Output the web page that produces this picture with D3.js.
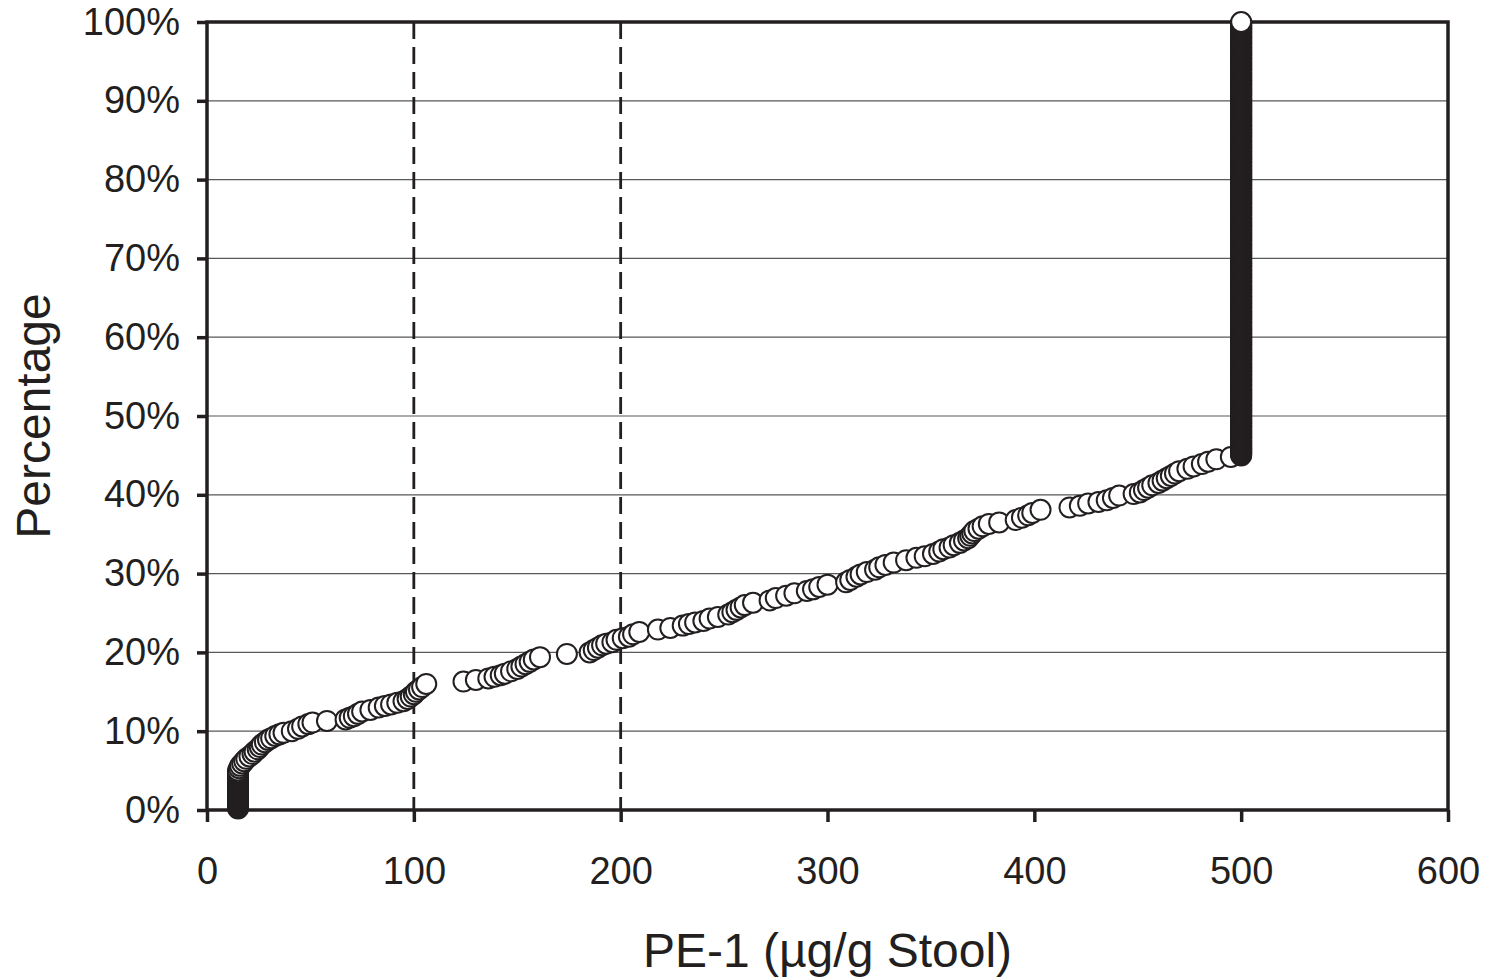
<!DOCTYPE html>
<html>
<head>
<meta charset="utf-8">
<script src="https://cdn.jsdelivr.net/npm/d3@7"></script>
<style>
  body { margin: 0; background: #fff; }
  svg { display: block; font-family: "Liberation Sans", Arial, sans-serif; }
</style>
</head>
<body>
<svg id="chart" width="1486" height="978"></svg>
<script>
// tick labels
var xTicks = [0, 100, 200, 300, 400, 500, 600];
var yTicks = [0, 10, 20, 30, 40, 50, 60, 70, 80, 90, 100];
var cutoffs = [100, 200];

// sloped part of the cumulative curve: PE-1 value and cumulative percentage
var pe1 = [15, 15.5, 16, 17, 18, 19, 20.5, 22, 23, 24.5, 25.5, 26.5, 28, 29.5, 31, 33, 35, 37, 41, 44,
  46, 49, 51, 58, 67, 69, 71, 73, 75, 79, 83, 86, 89, 92, 95, 97, 98.5, 100, 101, 102.5, 104, 106,
  124, 130, 136, 139, 142, 144, 147, 150, 152, 154, 156, 158, 161, 174, 185, 187, 189, 191, 193, 196,
  198, 201, 204, 206, 209, 218, 224, 230, 233, 236, 240, 243, 247, 252, 254, 256, 258, 260, 264, 272,
  275, 280, 284, 290, 293, 296, 300, 309, 311, 314, 316, 319, 323, 325, 328, 332, 338, 343, 347, 351,
  354, 356, 359, 361, 364, 366, 368, 369, 370, 371, 373, 375, 378, 383, 391, 394, 397, 399, 403, 417,
  422, 426, 431, 435, 438, 441, 448, 451, 453, 455, 457, 460, 462, 464, 466, 468, 470, 474, 477, 481,
  484, 488, 495];
var pct = [5.0, 5.3, 5.6, 5.9, 6.2, 6.5, 6.8, 7.1, 7.4, 7.7, 8.0, 8.3, 8.6, 8.9, 9.1, 9.4, 9.6, 9.8, 10.0, 10.3,
  10.6, 10.9, 11.1, 11.3, 11.5, 11.7, 11.9, 12.2, 12.5, 12.7, 13.0, 13.2, 13.4, 13.6, 13.8, 14.1, 14.4, 14.7, 15.0, 15.3, 15.6, 16.0,
  16.3, 16.5, 16.7, 16.9, 17.1, 17.3, 17.6, 17.9, 18.2, 18.5, 18.8, 19.1, 19.4, 19.8, 20.0, 20.3, 20.6, 20.9, 21.1, 21.3,
  21.6, 21.8, 22.0, 22.3, 22.6, 22.9, 23.1, 23.4, 23.6, 23.8, 24.0, 24.3, 24.5, 24.8, 25.1, 25.4, 25.7, 26.0, 26.3, 26.6,
  26.9, 27.2, 27.5, 27.8, 28.0, 28.3, 28.6, 28.9, 29.2, 29.6, 29.9, 30.2, 30.5, 30.8, 31.1, 31.4, 31.7, 32.0, 32.2, 32.5,
  32.8, 33.1, 33.3, 33.6, 33.9, 34.2, 34.5, 34.8, 35.1, 35.4, 35.7, 36.0, 36.3, 36.5, 36.8, 37.1, 37.4, 37.7, 38.1, 38.4,
  38.6, 38.9, 39.1, 39.3, 39.6, 39.9, 40.1, 40.3, 40.6, 40.9, 41.2, 41.5, 41.8, 42.1, 42.4, 42.7, 43.0, 43.3, 43.6, 43.9,
  44.2, 44.5, 44.8];

// tied samples (below detection limit / capped at 500): value, first and last percentage, sample count
var stackPe1 = [15, 500];
var stackFrom = [0.2, 45.0];
var stackTo = [4.8, 100];
var stackCount = [47, 551];

var svg = d3.select("#chart");
var plotLeft = 207, plotRight = 1448, plotTop = 22, plotBottom = 810;
var ink = "#231f20";

var x = d3.scaleLinear().domain([0, 600]).range([plotLeft, plotRight]);
var y = d3.scaleLinear().domain([0, 100]).range([plotBottom, plotTop]);

// gridlines
svg.append("g").selectAll("line")
  .data(yTicks.filter(function(d) { return d > 0 && d < 100; }))
  .enter().append("line")
  .attr("x1", plotLeft).attr("x2", plotRight)
  .attr("y1", function(d) { return y(d); }).attr("y2", function(d) { return y(d); })
  .attr("stroke", "#58595b").attr("stroke-width", 1.2);

// dashed cutoff lines
svg.append("g").selectAll("line")
  .data(cutoffs)
  .enter().append("line")
  .attr("x1", function(d) { return x(d); }).attr("x2", function(d) { return x(d); })
  .attr("y1", plotTop).attr("y2", plotBottom)
  .attr("stroke", ink).attr("stroke-width", 2.8)
  .attr("stroke-dasharray", "17,8");

// axes
var yAxis = svg.append("g").attr("transform", "translate(" + plotLeft + ",0)")
  .call(d3.axisLeft(y).tickValues(yTicks).tickFormat(function(d) { return d + "%"; }).tickSize(10).tickPadding(17));
var xAxis = svg.append("g").attr("transform", "translate(0," + plotBottom + ")")
  .call(d3.axisBottom(x).tickValues(xTicks).tickSize(12).tickPadding(35));

[xAxis, yAxis].forEach(function(a) {
  a.select(".domain").remove();
  a.selectAll(".tick line").attr("stroke", ink).attr("stroke-width", 3.5);
  a.selectAll(".tick text").attr("fill", ink).style("font-size", "38px")
    .style("font-family", "'Liberation Sans', Arial, sans-serif");
});

// frame
svg.append("rect")
  .attr("x", plotLeft).attr("y", plotTop)
  .attr("width", plotRight - plotLeft).attr("height", plotBottom - plotTop)
  .attr("fill", "none").attr("stroke", ink).attr("stroke-width", 3.5);

// build points: tied stacks + sloped curve, sorted by percentage
var points = [];
stackPe1.forEach(function(v, i) {
  var n = stackCount[i];
  for (var k = 0; k < n; k++) {
    points.push({ v: v, p: stackFrom[i] + (stackTo[i] - stackFrom[i]) * k / (n - 1) });
  }
});
pe1.forEach(function(v, i) { points.push({ v: v, p: pct[i] }); });
points.sort(function(a, b) { return a.p - b.p; });

svg.append("g").selectAll("circle")
  .data(points)
  .enter().append("circle")
  .attr("cx", function(d) { return x(d.v); })
  .attr("cy", function(d) { return y(d.p); })
  .attr("r", 10)
  .attr("fill", "#fff")
  .attr("stroke", ink)
  .attr("stroke-width", 2);

// axis titles
svg.append("text")
  .attr("x", (plotLeft + plotRight) / 2).attr("y", 967)
  .attr("text-anchor", "middle")
  .attr("fill", ink).style("font-size", "48px")
  .text("PE-1 (µg/g Stool)");

svg.append("text")
  .attr("transform", "translate(50," + (plotTop + plotBottom) / 2 + ") rotate(-90)")
  .attr("text-anchor", "middle")
  .attr("fill", ink).style("font-size", "48px")
  .text("Percentage");
</script>
</body>
</html>
